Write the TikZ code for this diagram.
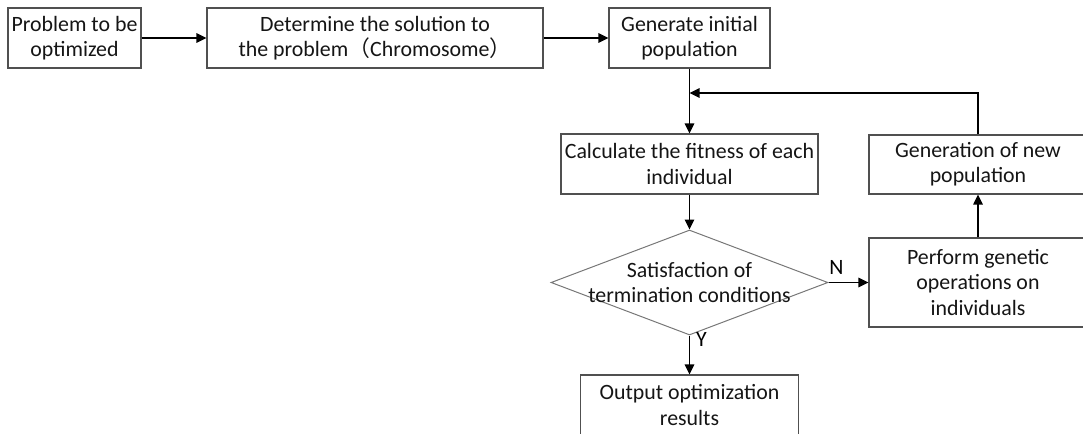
\documentclass[tikz,border=0pt]{standalone}
\usepackage{fontspec}
\setmainfont{Carlito}
\newfontfamily\cjk{Noto Sans CJK SC}
\usetikzlibrary{arrows.meta,shapes.geometric}

\definecolor{boxgray}{HTML}{505050}
\definecolor{diamgray}{HTML}{777777}
\definecolor{textgray}{HTML}{151515}

\begin{document}
\begin{tikzpicture}[
        x=0.75pt, y=-0.75pt,
        font=\fontsize{16.4}{18.9}\selectfont, text=textgray,
        stepbox/.style = {rectangle, draw=boxgray, line width=0.8pt, align=center, inner sep=0pt, minimum height=45pt},
        decision/.style = {diamond, draw=diamgray, line width=0.75pt, inner sep=0pt},
        arrow/.style = {-{Triangle[length=7.5pt, width=7pt]}, line width=1.2pt, black}
        ]
        \useasboundingbox (0,0) rectangle (1083,433);
        \clip (0,0) rectangle (1083,433);

        % top row
        \node[stepbox, minimum width=99.75pt] (problem) at (74.5,38) {Problem to be\\optimized};
        \node[stepbox, minimum width=252pt] (solution) at (375,38) {Determine the solution to\\the problem{\cjk （}Chromosome{\cjk ）}};
        \node[stepbox, minimum width=120.75pt] (initpop) at (689.5,38) {Generate initial\\population};

        % main loop
        \node[stepbox, minimum width=192.75pt] (fitness) at (689.5,164) {Calculate the fitness of each\\individual};
        \node[decision, minimum width=207.75pt, minimum height=78.75pt,
              label={[align=center, text=textgray]center:Satisfaction of\\termination conditions}] (judge) at (689.5,282.5) {};
        \node[stepbox, minimum width=163.5pt, minimum height=66.75pt] (genetic) at (978,282.5) {Perform genetic\\operations on\\individuals};
        \node[stepbox, minimum width=163.5pt, minimum height=44.25pt] (newpop) at (978,164.5) {Generation of new\\population};
        \node[stepbox, minimum width=163.5pt] (output) at (689.5,405) {Output optimization\\results};
        \coordinate (merge) at (689.5,93);

        \draw[arrow] (problem) -- (solution);
        \draw[arrow] (solution) -- (initpop);
        \draw[arrow] (initpop) -- (fitness);
        \draw[arrow] (fitness) -- (judge);
        \draw[arrow] (judge.east) -- node[above=2pt, pos=0.2] (nlabel) {N} (genetic.west);
        \draw[arrow] (judge.south) -- node[right=1pt, pos=0.1] (ylabel) {Y} (output.north);
        \draw[arrow] (genetic) -- (newpop);
        \draw[arrow] (newpop.north) |- (merge);
\end{tikzpicture}
\end{document}
